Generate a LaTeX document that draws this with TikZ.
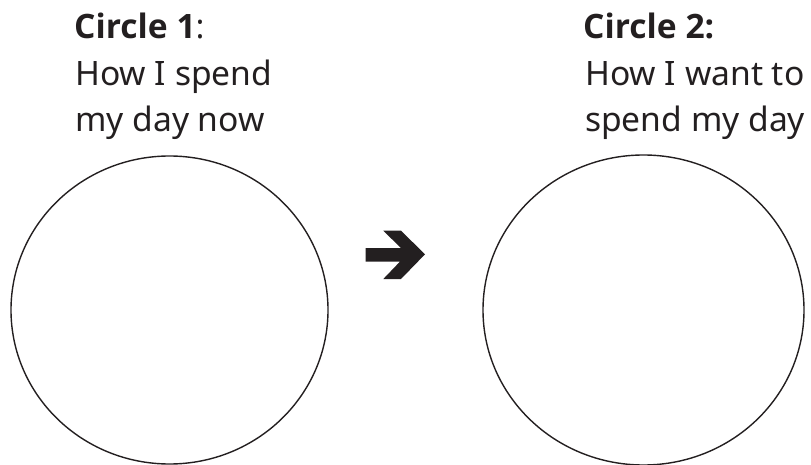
\documentclass[tikz,border=0pt]{standalone}
\usepackage{fontspec}
\setmainfont{Noto Sans}
\newfontfamily\headfont{Open Sans}
\definecolor{ink}{HTML}{231F20}
\tikzset{
  headline/.style={anchor=base west,text=ink,font=\fontsize{33.6}{40}\selectfont\headfont\bfseries,inner sep=0pt},
  bodyline/.style={anchor=base west,text=ink,font=\fontsize{33.6}{40}\selectfont,inner sep=0pt},
  ring/.style={draw=ink,line width=1.4pt}
}
\begin{document}
\begin{tikzpicture}[x=1pt,y=-1pt]
\useasboundingbox (0,0) rectangle (811,465);
% circle 1
\node[headline] (headA) at (74,39) {Circle 1\mdseries:};
\node[bodyline] (textA1) at (75,85.5) {How I spend};
\node[bodyline] (textA2) at (75,132) {my day now};
\draw[ring] (169.5,310) ellipse [x radius=158.5,y radius=154];
% circle 2
\node[headline] (headB) at (583,39) {Circle 2:};
\node[bodyline] (textB1) at (585,85.5) {How I want to};
\node[bodyline] (textB2) at (585,132) {spend my day};
\draw[ring] (643.5,310) ellipse [x radius=160.5,y radius=155];
% arrow
\fill[ink] (365.7,248)--(400.9,248)--(383.3,230.7)--(401,230.7)--(425,254.3)
  --(401,279)--(383.3,279)--(399.9,261.7)--(365.7,261.7)--cycle;
\end{tikzpicture}
\end{document}
